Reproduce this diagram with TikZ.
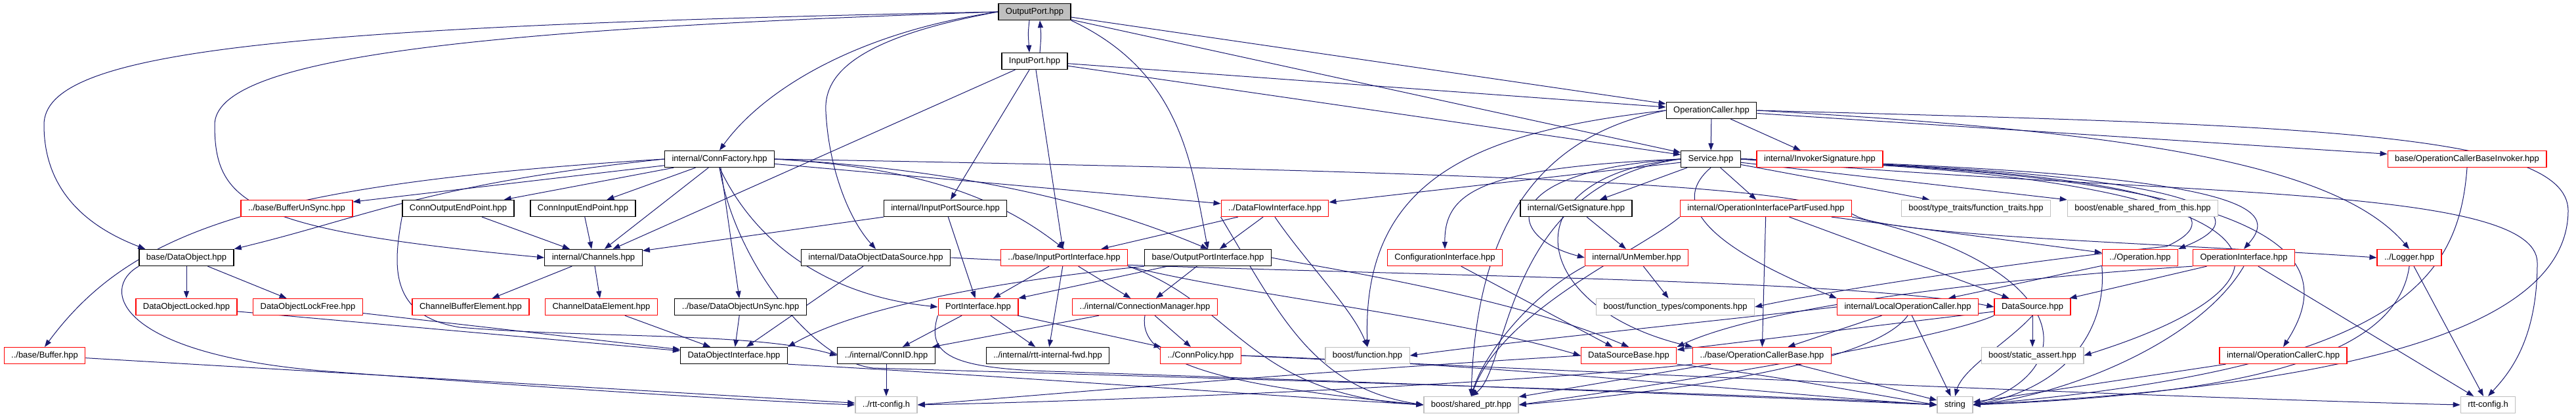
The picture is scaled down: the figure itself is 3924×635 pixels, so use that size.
\documentclass[tikz,border=0pt]{standalone}
\usepackage{fontspec}
\setmainfont{Liberation Sans}
\usetikzlibrary{arrows.meta}
\definecolor{midnight}{RGB}{25,25,112}
\definecolor{grey75}{RGB}{191,191,191}
\pgfdeclarelayer{bg}
\pgfsetlayers{bg,main}

\begin{document}
\begin{tikzpicture}[
    x=1pt, y=-1pt,
    file/.style={rectangle, draw=black, line width=1.3pt, fill=white, minimum height=25pt, inner xsep=11pt, inner ysep=1pt, font=\fontsize{13}{15}\selectfont},
    focus/.style={file, fill=grey75},
    trunc/.style={file, draw=red},
    ext/.style={file, draw=grey75},
    dep/.style={-{Triangle[length=11pt,width=8pt]}, draw=midnight, line width=1pt}
]
\useasboundingbox (0,0) rectangle (3924,635);

% Top: the file and what it includes directly
\node[focus] (outport) at (1576,18) {OutputPort.hpp};
\node[file] (inport) at (1576,93) {InputPort.hpp};
\node[file] (opcaller) at (2607,168) {OperationCaller.hpp};

\node[file] (connfactory) at (1096,242) {internal/ConnFactory.hpp};
\node[file] (service) at (2606,242) {Service.hpp};
\node[trunc] (invsig) at (2772,242) {internal/InvokerSignature.hpp};
\node[trunc] (ocbinvoker) at (3758,242) {base/OperationCallerBaseInvoker.hpp};

% Row 4
\node[trunc] (bufunsync) at (452,317) {../base/BufferUnSync.hpp};
\node[file] (connoutep) at (698,317) {ConnOutputEndPoint.hpp};
\node[file] (conninep) at (888,317) {ConnInputEndPoint.hpp};
\node[file] (inportsource) at (1440,317) {internal/InputPortSource.hpp};
\node[trunc] (dfi) at (1942,317) {../DataFlowInterface.hpp};
\node[file] (getsig) at (2401,317) {internal/GetSignature.hpp};
\node[trunc] (oipf) at (2690,317) {internal/OperationInterfacePartFused.hpp};
\node[ext] (functraits) at (3010,317) {boost/type\_traits/function\_traits.hpp};
\node[ext] (enableshared) at (3264,317) {boost/enable\_shared\_from\_this.hpp};

% Row 5
\node[file] (dataobject) at (284,392) {base/DataObject.hpp};
\node[file] (channels) at (904,392) {internal/Channels.hpp};
\node[file] (dods) at (1334,392) {internal/DataObjectDataSource.hpp};
\node[trunc] (ipi) at (1621,392) {../base/InputPortInterface.hpp};
\node[file] (opi) at (1840,392) {base/OutputPortInterface.hpp};
\node[trunc] (confif) at (2201,392) {ConfigurationInterface.hpp};
\node[trunc] (unmember) at (2493,392) {internal/UnMember.hpp};
\node[trunc] (operation) at (3260,392) {../Operation.hpp};
\node[trunc] (opif) at (3418,392) {OperationInterface.hpp};
\node[trunc] (logger) at (3670,392) {../Logger.hpp};

% Row 6
\node[trunc] (dolocked) at (284,467) {DataObjectLocked.hpp};
\node[trunc] (dolockfree) at (469,467) {DataObjectLockFree.hpp};
\node[trunc] (chbufel) at (717,467) {ChannelBufferElement.hpp};
\node[trunc] (chdatael) at (916,467) {ChannelDataElement.hpp};
\node[file] (dounsync) at (1128,467) {../base/DataObjectUnSync.hpp};
\node[trunc] (portif) at (1490,467) {PortInterface.hpp};
\node[trunc] (connmgr) at (1744,467) {../internal/ConnectionManager.hpp};
\node[ext] (ftcomp) at (2552,467) {boost/function\_types/components.hpp};
\node[trunc] (localoc) at (2906,467) {internal/LocalOperationCaller.hpp};
\node[trunc] (datasource) at (3096,467) {DataSource.hpp};

% Row 7
\node[trunc] (buffer) at (68,541) {../base/Buffer.hpp};
\node[file] (doif) at (1118,541) {DataObjectInterface.hpp};
\node[file] (connid) at (1350,541) {../internal/ConnID.hpp};
\node[file] (fwd) at (1596,541) {../internal/rtt-internal-fwd.hpp};
\node[trunc] (connpolicy) at (1829,541) {../ConnPolicy.hpp};
\node[ext] (boostfunc) at (2083,541) {boost/function.hpp};
\node[trunc] (dsbase) at (2481,541) {DataSourceBase.hpp};
\node[trunc] (ocbase) at (2684,541) {../base/OperationCallerBase.hpp};
\node[ext] (staticassert) at (3096,541) {boost/static\_assert.hpp};
\node[trunc] (occ) at (3478,541) {internal/OperationCallerC.hpp};

% Bottom: leaves
\node[ext] (rttconfig1) at (1350,616) {../rtt-config.h};
\node[ext] (sharedptr) at (2241,616) {boost/shared\_ptr.hpp};
\node[ext] (string) at (2978,616) {string};
\node[ext] (rttconfig2) at (3790,616) {rtt-config.h};

\begin{pgfonlayer}{bg}
% OutputPort.hpp
\draw[dep] ([xshift=-8pt]outport.south) .. controls ([xshift=-10pt]outport.south |- 0,50) .. ([xshift=-8pt]inport.north);
\draw[dep] ([xshift=8pt]inport.north) .. controls ([xshift=10pt]inport.north |- 0,55) .. ([xshift=8pt]outport.south);
\draw[dep] (outport) -- (opcaller);
\draw[dep] (outport) -- (service);
\draw[dep] (outport.south east) .. controls (1800,110) and (1815,250) .. (opi.north);
\draw[dep] (outport.west) .. controls (1300,50) and (1160,140) .. (connfactory.north);
\draw[dep] (outport.west) .. controls (1290,60) and (1255,120) .. (1258,170) .. controls (1262,250) and (1290,330) .. (dods.north);
\draw[dep] (outport.west) .. controls (400,40) and (67,80) .. (67,190) .. controls (67,280) and (120,340) .. ([xshift=10pt]dataobject.north west);
\draw[dep] (outport.west) .. controls (700,45) and (327,90) .. (327,190) .. controls (327,310) and (380,350) .. (channels.west);

% InputPort.hpp
\draw[dep] (inport) -- (channels);
\draw[dep] (inport) -- (inportsource);
\draw[dep] (inport) -- (ipi);
\draw[dep] (inport) -- (opcaller);
\draw[dep] (inport) -- (service);

% OperationCaller.hpp
\draw[dep] (opcaller) -- (service);
\draw[dep] (opcaller) -- (invsig);
\draw[dep] (opcaller) -- (ocbinvoker);
\draw[dep] (opcaller.east) .. controls (3250,200) and (3560,250) .. (logger.north);
\draw[dep] (opcaller.east) .. controls (3500,190) and (3910,200) .. (3912,320) .. controls (3912,520) and (3500,590) .. (string.east);
\draw[dep] (opcaller.west) .. controls (2250,200) and (2075,270) .. (boostfunc.north);
\draw[dep] (opcaller.west) .. controls (2380,200) and (2250,300) .. (sharedptr.north);

% Service.hpp
\draw[dep] (service) -- (dfi);
\draw[dep] (service) -- (getsig);
\draw[dep] (service) -- (oipf);
\draw[dep] (service) -- (functraits);
\draw[dep] (service) -- (enableshared);
\draw[dep] (service.west) .. controls (2260,255) and (2200,290) .. (confif.north);
\draw[dep] (service.west) .. controls (2280,260) and (2290,360) .. (unmember.west);
\draw[dep] (service.west) .. controls (2290,280) and (2300,560) .. (sharedptr.north);
\draw[dep] (service.west) .. controls (2290,270) and (2330,470) .. (ocbase.north west);
\draw[dep] (service.south) .. controls (2530,320) and (2640,390) .. (localoc.north west);
\draw[dep] (service.east) .. controls (3350,262) and (3400,330) .. (3300,375) .. controls (3100,395) and (2800,440) .. (ftcomp.east);
\draw[dep] (service.east) .. controls (3400,262) and (3440,330) .. (operation.north east);
\draw[dep] (service.east) .. controls (3450,262) and (3470,320) .. (opif.north);
\draw[dep] (service.east) .. controls (3500,265) and (3560,420) .. (staticassert.east);
\draw[dep] (service.east) .. controls (3520,265) and (3560,400) .. (occ.north);
\draw[dep] (service.east) .. controls (3300,300) and (3865,280) .. (3865,400) .. controls (3865,520) and (3820,570) .. (rttconfig2.north);

% internal/ConnFactory.hpp
\draw[dep] (connfactory) -- (bufunsync);
\draw[dep] (connfactory.west) .. controls (400,280) and (200,350) .. (buffer.north);
\draw[dep] (connfactory.west) .. controls (650,280) and (560,330) .. (dataobject.north east);
\draw[dep] (connfactory) -- (connoutep);
\draw[dep] (connfactory) -- (conninep);
\draw[dep] (connfactory) -- (channels);
\draw[dep] (connfactory) -- (dounsync);
\draw[dep] (connfactory.south) .. controls (1150,370) and (1260,450) .. (portif.west);
\draw[dep] (connfactory.south) .. controls (1120,400) and (1240,550) .. (1330,560) .. controls (2000,580) and (2700,600) .. (string.west);
\draw[dep] (connfactory.east) .. controls (1400,255) and (1520,300) .. (ipi.north);
\draw[dep] (connfactory.east) .. controls (1500,260) and (1700,320) .. (opi.north);
\draw[dep] (connfactory) -- (dfi);
\draw[dep] (connfactory.east) .. controls (2500,265) and (2760,290) .. (2830,330) .. controls (2900,360) and (3300,370) .. (logger.west);

% data objects and channels
\draw[dep] (dataobject) -- (dolocked);
\draw[dep] (dataobject) -- (dolockfree);
\draw[dep] (dataobject.south west) .. controls (150,440) and (180,540) .. (500,565) .. controls (900,595) and (1150,610) .. (rttconfig1.west);
\draw[dep] (buffer) -- (rttconfig1);
\draw[dep] (dolocked) -- (doif);
\draw[dep] (dolockfree) -- (doif);
\draw[dep] (connoutep) -- (channels);
\draw[dep] (connoutep.south west) .. controls (600,400) and (590,480) .. (700,498) .. controls (900,515) and (1150,505) .. (connid.west);
\draw[dep] (conninep) -- (channels);
\draw[dep] (channels) -- (chbufel);
\draw[dep] (channels) -- (chdatael);
\draw[dep] (chdatael) -- (doif);
\draw[dep] (dounsync) -- (doif);
\draw[dep] (dods) -- (doif);
\draw[dep] (doif.south east) .. controls (1500,570) and (1900,600) .. (sharedptr.west);
\draw[dep] (inportsource) -- (channels);
\draw[dep] (inportsource) -- (portif);
\draw[dep] (dods.east) .. controls (2000,420) and (2800,420) .. (datasource.west);

% port interfaces
\draw[dep] (ipi) -- (portif);
\draw[dep] (ipi) -- (connmgr);
\draw[dep] (ipi) -- (fwd);
\draw[dep] (ipi.south east) .. controls (1880,460) and (1900,600) .. (sharedptr.west);
\draw[dep] (ipi.south east) .. controls (1900,450) and (2200,480) .. (dsbase.west);
\draw[dep] (opi) -- (portif);
\draw[dep] (opi) -- (connmgr);
\draw[dep] (opi.south west) .. controls (1500,430) and (1300,470) .. (doif.north east);
\draw[dep] (opi.east) .. controls (2000,405) and (2300,450) .. (dsbase.north);
\draw[dep] (portif) -- (connid);
\draw[dep] (portif) -- (fwd);
\draw[dep] (portif) -- (connpolicy);
\draw[dep] (portif.south west) .. controls (1410,540) and (1450,560) .. (1600,565) .. controls (2200,585) and (2700,605) .. (string.west);
\draw[dep] (connmgr) -- (connid);
\draw[dep] (connmgr) -- (connpolicy);
\draw[dep] (connmgr.south) .. controls (1730,560) and (1900,590) .. (sharedptr.west);
\draw[dep] (connpolicy.east) .. controls (2300,555) and (2700,600) .. (string.west);
\draw[dep] (connpolicy.east) .. controls (2500,570) and (3300,605) .. (rttconfig2.west);
\draw[dep] (connid) -- (rttconfig1);
\draw[dep] (dfi) -- (ipi);
\draw[dep] (dfi) -- (opi);
\draw[dep] (dfi.south) .. controls (1990,400) and (2060,470) .. (boostfunc.north);
\draw[dep] (dfi.south west) .. controls (1950,480) and (2000,590) .. (sharedptr.west);

% operations
\draw[dep] (confif) -- (dsbase);
\draw[dep] (getsig) -- (unmember);
\draw[dep] (unmember) -- (ftcomp);
\draw[dep] (unmember.south west) .. controls (2330,450) and (2260,540) .. (sharedptr.north);
\draw[dep] (oipf) -- (ocbase);
\draw[dep] (oipf) -- (datasource);
\draw[dep] (oipf) -- (operation);
\draw[dep] (oipf.south east) .. controls (3150,400) and (3180,560) .. (string.east);
\draw[dep] (oipf.south west) .. controls (2500,380) and (2290,470) .. (sharedptr.north);
\draw[dep] (localoc) -- (ocbase);
\draw[dep] (localoc) -- (string);
\draw[dep] (localoc.south) .. controls (2850,560) and (2500,600) .. (sharedptr.east);
\draw[dep] (localoc.west) .. controls (2600,490) and (2300,520) .. (boostfunc.east);
\draw[dep] (datasource) -- (dsbase);
\draw[dep] (datasource) -- (staticassert);
\draw[dep] (datasource.south) .. controls (3060,520) and (2990,560) .. (string.north);
\draw[dep] (datasource.south west) .. controls (2950,520) and (2500,590) .. (sharedptr.east);
\draw[dep] (dsbase.west) .. controls (2000,565) and (1600,600) .. (rttconfig1.east);
\draw[dep] (dsbase.south east) .. controls (2700,570) and (2850,600) .. (string.west);
\draw[dep] (ocbase) -- (string);
\draw[dep] (ocbase) -- (sharedptr);
\draw[dep] (ocbase.south west) .. controls (2300,585) and (1700,610) .. (rttconfig1.east);
\draw[dep] (operation.south west) .. controls (3210,500) and (3150,590) .. (string.east);
\draw[dep] (operation) -- (localoc);
\draw[dep] (opif) -- (datasource);
\draw[dep] (opif.south) .. controls (3350,520) and (3150,600) .. (string.east);
\draw[dep] (opif) -- (rttconfig2);
\draw[dep] (opif.south west) .. controls (3100,420) and (2700,460) .. (dsbase.north east);
\draw[dep] (logger.south) .. controls (3650,550) and (3400,600) .. (string.east);
\draw[dep] (logger) -- (rttconfig2);
\draw[dep] (occ) -- (string);
\draw[dep] (ocbinvoker.south) .. controls (3745,430) and (3650,560) .. (string.east);
\end{pgfonlayer}

\end{tikzpicture}
\end{document}
